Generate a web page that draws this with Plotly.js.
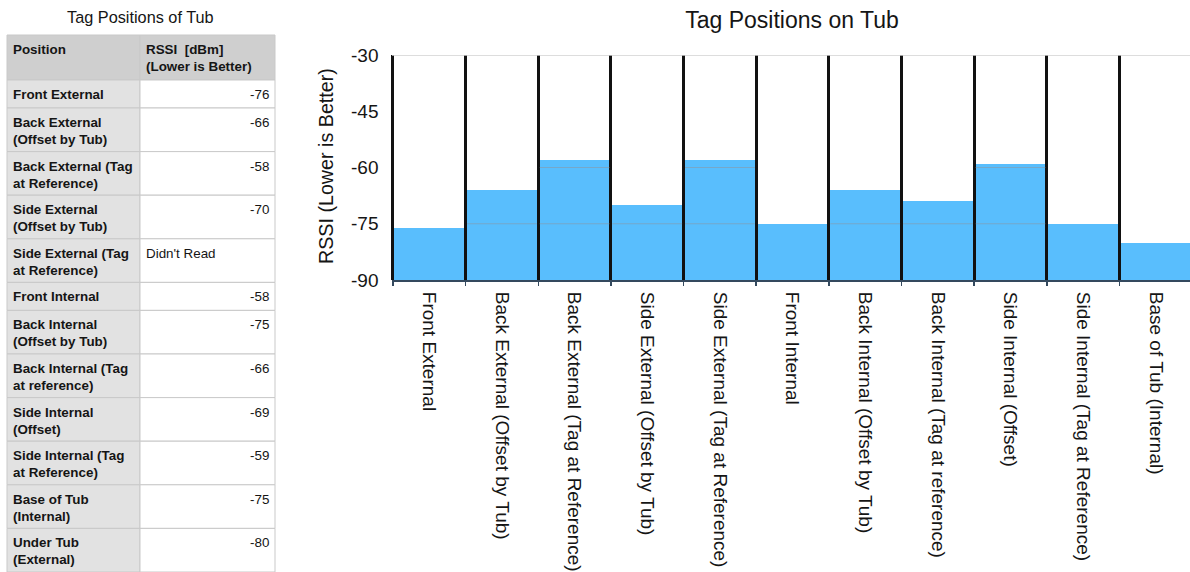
<!DOCTYPE html>
<html>
<head>
<meta charset="utf-8">
<script src="https://cdn.plot.ly/plotly-3.0.1.min.js"></script>
<style>
  html, body { margin: 0; padding: 0; background: #fff; }
  #chart { width: 1190px; height: 572px; }
</style>
</head>
<body>
<div id="chart"></div>
<script>
// ---- Table: measured RSSI per tag position ----
const tableTitle = 'Tag Positions of Tub';
const tableHeader = ['Position', 'RSSI\u00a0\u00a0[dBm]<br>(Lower is Better)'];
const tablePositions = [
  'Front External',
  'Back External<br>(Offset by Tub)',
  'Back External (Tag<br>at Reference)',
  'Side External<br>(Offset by Tub)',
  'Side External (Tag<br>at Reference)',
  'Front Internal',
  'Back Internal<br>(Offset by Tub)',
  'Back Internal (Tag<br>at reference)',
  'Side Internal<br>(Offset)',
  'Side Internal (Tag<br>at Reference)',
  'Base of Tub<br>(Internal)',
  'Under Tub<br>(External)'
];
const tableRssi = ['-76', '-66', '-58', '-70', "Didn't Read", '-58', '-75', '-66', '-69', '-59', '-75', '-80'];

// ---- Bar chart ----
const chartTitle = 'Tag Positions on Tub';
const barCategories = [
  'Front External',
  'Back External (Offset by Tub)',
  'Back External (Tag at Reference)',
  'Side External (Offset by Tub)',
  'Side External (Tag at Reference)',
  'Front Internal',
  'Back Internal (Offset by Tub)',
  'Back Internal (Tag at reference)',
  'Side Internal (Offset)',
  'Side Internal (Tag at Reference)',
  'Base of Tub (Internal)'
];
const barRssi = [-76, -66, -58, -70, -58, -75, -66, -69, -59, -75, -80];
const yTicks = [-90, -75, -60, -45, -30];
const yAxisTitle = 'RSSI (Lower is Better)';

const FONT = 'Liberation Sans, Arial, Helvetica, sans-serif';
const TEXT = '#151515';
const W = 1190, H = 572;
const BAR_BLUE = '#59BEFD';

const px = v => v / W;          // horizontal pixel -> paper
const py = v => 1 - v / H;      // vertical pixel (from top) -> paper

const yBase = yTicks[0];
const yTop = yTicks[yTicks.length - 1];

// bars rise from the bottom of the axis to each reading
const barTrace = {
  type: 'bar',
  x: barCategories,
  y: barRssi.map(v => v - yBase),
  base: yBase,
  width: 0.96,
  marker: { color: BAR_BLUE, line: { width: 0 } },
  hoverinfo: 'x+text',
  text: barRssi.map(String),
  textposition: 'none',
  showlegend: false
};

const shapes = [];
const annotations = [];

// light rules at the inner y ticks, shown across the filled part of each bar
barRssi.forEach((v, i) => {
  yTicks.slice(1, -1).forEach(t => {
    if (v > t) {
      shapes.push({
        type: 'line', layer: 'above', xref: 'x', yref: 'y',
        x0: i - 0.48, x1: i + 0.48, y0: t, y1: t,
        line: { color: 'rgba(140,150,160,0.55)', width: 1 }
      });
    }
  });
});
// frame line along the top of the value range
shapes.push({
  type: 'line', layer: 'above', xref: 'paper', yref: 'y',
  x0: px(392), x1: 1, y0: yTop, y1: yTop,
  line: { color: '#d2d2d2', width: 1.5 }
});

// ---- table drawn as cell rectangles with text ----
const colX = [7, 140, 275];
const pad = 4;
const tableTop = 35;
const headerH = 45;
const rowH = label => (label.split('<br>').length > 1 ? 43.6 : 28);
const cellFont = { family: FONT, size: 13.4, color: TEXT };

function addCell(x0, x1, y0, y1, fill) {
  shapes.push({
    type: 'rect', layer: 'below', xref: 'paper', yref: 'paper',
    x0: px(x0), x1: px(x1), y0: py(y1), y1: py(y0),
    fillcolor: fill, line: { color: '#c9c9c9', width: 1 }
  });
}
function addText(text, x, y, anchor) {
  annotations.push({
    text: text, xref: 'paper', yref: 'paper',
    x: px(x), y: py(y), xanchor: anchor, yanchor: 'top', align: anchor,
    showarrow: false, font: cellFont
  });
}

// header row
tableHeader.forEach((h, c) => {
  addCell(colX[c], colX[c + 1], tableTop, tableTop + headerH, '#cfcfcf');
  addText('<b>' + h + '</b>', colX[c] + pad, tableTop + 5, 'left');
});
// body rows
let rowTop = tableTop + headerH;
tablePositions.forEach((label, r) => {
  const h = rowH(label);
  addCell(colX[0], colX[1], rowTop, rowTop + h, '#e2e2e2');
  addCell(colX[1], colX[2], rowTop, rowTop + h, '#ffffff');
  addText('<b>' + label + '</b>', colX[0] + pad, rowTop + 5, 'left');
  const val = tableRssi[r];
  if (isNaN(Number(val))) {
    addText(val, colX[1] + pad, rowTop + 5, 'left');
  } else {
    addText(val, colX[2] - pad, rowTop + 5, 'right');
  }
  rowTop += h;
});

annotations.push({
  text: tableTitle, xref: 'paper', yref: 'paper',
  x: px(140), y: py(17), xanchor: 'center', yanchor: 'middle',
  showarrow: false, font: { family: FONT, size: 16.3, color: TEXT }
});
annotations.push({
  text: yAxisTitle, xref: 'paper', yref: 'paper',
  x: px(326), y: py(166), xanchor: 'center', yanchor: 'middle',
  textangle: -90, showarrow: false,
  font: { family: FONT, size: 19.7, color: TEXT }
});

const layout = {
  width: W,
  height: H,
  margin: { l: 0, r: 0, t: 0, b: 0 },
  paper_bgcolor: '#ffffff',
  plot_bgcolor: '#ffffff',
  font: { family: FONT, color: TEXT },
  showlegend: false,
  bargap: 0,
  title: {
    text: chartTitle,
    font: { family: FONT, size: 23, color: TEXT },
    xref: 'paper', x: px(792), xanchor: 'center',
    yref: 'container', y: py(20), yanchor: 'middle'
  },
  xaxis: {
    type: 'category',
    domain: [px(391.5), 1],
    range: [-0.52, barCategories.length - 0.53],
    tickson: 'boundaries',
    showgrid: true,
    gridcolor: '#111111',
    gridwidth: 3,
    showline: true,
    linecolor: '#34495e',
    linewidth: 2,
    ticks: 'outside',
    ticklen: 4,
    tickwidth: 1.5,
    tickcolor: '#34495e',
    tickangle: 90,
    ticklabelstandoff: 6,
    tickfont: { family: FONT, size: 19, color: TEXT },
    zeroline: false,
    fixedrange: true
  },
  yaxis: {
    domain: [1 - 280 / H, 1 - 55 / H],
    range: [yBase, yTop],
    tickvals: yTicks,
    ticktext: yTicks.map(String),
    showgrid: false,
    zeroline: false,
    showline: false,
    ticks: '',
    ticklabelstandoff: 12,
    tickfont: { family: FONT, size: 19, color: TEXT },
    fixedrange: true
  },
  shapes: shapes,
  annotations: annotations
};

Plotly.newPlot('chart', [barTrace], layout, { displayModeBar: false, staticPlot: true });
</script>
</body>
</html>
